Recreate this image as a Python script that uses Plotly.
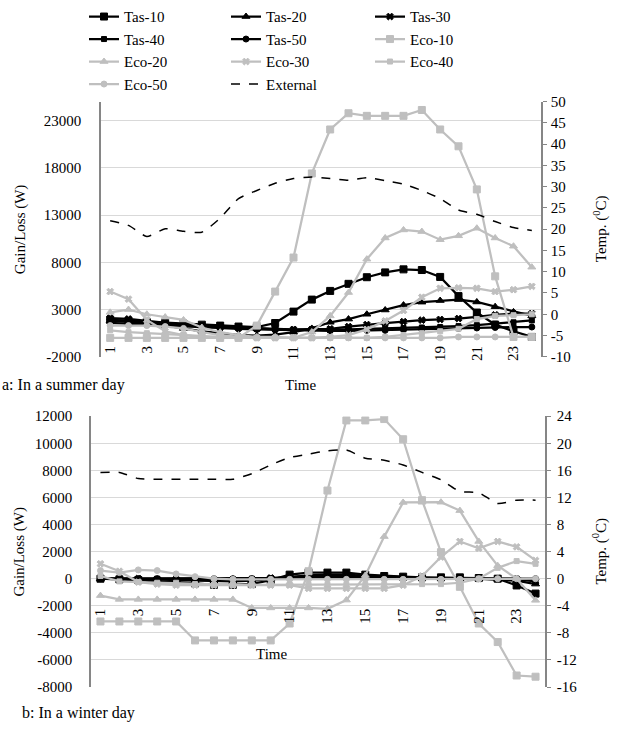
import plotly.graph_objects as go

hours = list(range(1, 25))
x_tick_vals = list(range(1, 25, 2))
series_names = ["Tas-10", "Tas-20", "Tas-30", "Tas-40", "Tas-50",
                "Eco-10", "Eco-20", "Eco-30", "Eco-40", "Eco-50"]

# axis tick values
top_left_ticks = [-2000, 3000, 8000, 13000, 18000, 23000]
top_right_ticks = [-10, -5, 0, 5, 10, 15, 20, 25, 30, 35, 40, 45, 50]
bot_left_ticks = [-8000, -6000, -4000, -2000, 0, 2000, 4000, 6000, 8000, 10000, 12000]
bot_right_ticks = [-16, -12, -8, -4, 0, 4, 8, 12, 16, 20, 24]

# ---- Summer day (W) ----
summer_tas10 = [1900, 1800, 1700, 1600, 1500, 1400, 1300, 1200, 1130, 1575, 2780, 4050,
                4970, 5720, 6420, 6930, 7250, 7180, 6450, 4420, 2680, 1400, 700, 100]
summer_tas20 = [1800, 1700, 1500, 1300, 1000, 700, 500, 300, 250, 350, 600, 1000,
                1650, 1990, 2500, 2950, 3470, 3780, 3950, 4050, 3800, 3300, 2750, 2330]
summer_tas30 = [2100, 2000, 1800, 1600, 1400, 1300, 1200, 1100, 1000, 950, 900, 900,
                960, 1200, 1410, 1570, 1720, 1880, 1950, 2050, 2230, 2440, 2570, 2570]
summer_tas40 = [1900, 1800, 1650, 1500, 1350, 1250, 1150, 1050, 950, 900, 850, 850,
                850, 900, 950, 1000, 1050, 1100, 1150, 1250, 1350, 1500, 1650, 1850]
summer_tas50 = [1600, 1500, 1400, 1300, 1200, 1100, 1000, 950, 900, 850, 800, 750,
                750, 750, 800, 800, 850, 900, 950, 1000, 1050, 1100, 1150, 1150]
summer_eco10 = [0, 0, 0, 0, 0, 0, 0, 0, 1300, 4900, 8500, 17400,
                22050, 23770, 23490, 23490, 23490, 24110, 22050, 20270, 15710, 6510, 100, 100]
summer_eco20 = [2700, 3000, 2500, 2200, 1900, 1100, 600, 300, 100, 100, 0, 620,
                2330, 4800, 8330, 10570, 11420, 11250, 10390, 10800, 11600, 10570, 9700, 7480]
summer_eco30 = [4900, 4100, 1900, 700, 300, 100, 0, 0, 0, 0, 0, 0,
                100, 300, 900, 1800, 2900, 4300, 5250, 5300, 5250, 4900, 5100, 5450]
summer_eco40 = [800, 600, 500, 400, 300, 200, 100, 0, 0, 0, 0, 0,
                0, 0, 0, 100, 300, 500, 700, 960, 1990, 2330, 2400, 2500]
summer_eco50 = [1300, 1300, 1300, 1200, 1000, 600, 300, 100, 0, 0, 0, 0,
                0, 0, 0, 0, 0, 0, 0, 100, 100, 100, 100, 100]
summer_external = [22.0, 20.9, 18.3, 20.1, 19.5, 19.3, 22.6, 27.2, 29.1, 30.8, 31.9, 32.3,
                   31.9, 31.5, 32.1, 31.4, 30.6, 29.1, 27.2, 24.5, 23.5, 21.8, 20.4, 19.7]

# ---- Winter day (W) ----
winter_tas10 = [0, -50, -100, -150, -250, -350, -450, -450, -400, -100, 300, 450,
                450, 450, 300, 200, 150, 100, 100, 100, 50, 0, -500, -1100]
winter_tas20 = [0, 0, -50, -50, -100, -150, -200, -200, -150, 0, 150, 250,
                300, 300, 200, 150, 100, 50, 50, 0, 0, -50, -150, -400]
winter_tas30 = [0, 0, 0, -50, -50, -100, -100, -100, -50, 50, 150, 200,
                200, 200, 150, 100, 50, 50, 0, 0, 0, 0, -50, -200]
winter_tas40 = [0, 0, 0, 0, 0, 0, -50, -50, 0, 50, 100, 150,
                150, 150, 100, 50, 50, 0, 0, 0, 0, 0, 0, -100]
winter_tas50 = [0, 0, 0, 0, 0, 0, 0, 0, 0, 0, 50, 100,
                100, 100, 50, 50, 0, 0, 0, 0, 0, 0, 0, 0]
winter_eco10 = [-3160, -3160, -3160, -3160, -3160, -4560, -4560, -4560, -4560, -4560, -3310, 550,
                6510, 11690, 11690, 11790, 10300, 5800, 1960, -600, -3310, -4680, -7150, -7240]
winter_eco20 = [-1250, -1530, -1530, -1530, -1530, -1530, -1530, -1530, -2160, -2160, -2160, -2160,
                -2230, -1580, 240, 3110, 5630, 5650, 5650, 5030, 2750, 960, 0, -1600]
winter_eco30 = [1100, 550, -250, -400, -480, -480, -480, -480, -480, -480, -480, -720,
                -720, -720, -720, -720, -480, 200, 1600, 2750, 2250, 2750, 2350, 1350]
winter_eco40 = [200, -200, -250, -300, -300, -400, -450, -450, -450, -450, -450, -450,
                -450, -450, -450, -450, -400, -400, -400, -300, 0, 800, 1300, 1100]
winter_eco50 = [600, 450, 650, 600, 350, 150, 0, -50, -50, -50, -50, -50,
                -50, -50, -50, -50, -50, -50, -50, -50, 0, 0, 0, 0]
winter_external = [15.7, 15.7, 14.8, 14.7, 14.7, 14.7, 14.7, 14.7, 15.5, 16.8, 17.9, 18.4,
                   18.9, 19.0, 17.8, 17.5, 16.8, 15.7, 14.6, 12.9, 12.7, 11.1, 11.6, 11.6]

summer_sets = [summer_tas10, summer_tas20, summer_tas30, summer_tas40, summer_tas50,
               summer_eco10, summer_eco20, summer_eco30, summer_eco40, summer_eco50]
winter_sets = [winter_tas10, winter_tas20, winter_tas30, winter_tas40, winter_tas50,
               winter_eco10, winter_eco20, winter_eco30, winter_eco40, winter_eco50]

BLACK = "#000000"
GRAY = "#bfbfbf"
AXIS = "#868686"
GRID = "#d9d9d9"
FONT = "Liberation Serif"

symbols = ["square", "triangle-up", "x", "square", "circle"]
sizes = [7, 7, 6, 5, 6]
legend_ids = ["legend", "legend2", "legend3"]  # three legend columns

fig = go.Figure()

# plot geometry (paper fractions)
W, H = 618, 733
top_dom_x = [101 / W, 541 / W]
top_dom_y = [(H - 355) / H, (H - 93) / H]
bot_dom_x = [91 / W, 545 / W]
bot_dom_y = [(H - 694) / H, (H - 416) / H]
top_range = [-2000, 25000]
bot_range = [-8000, 12000]


def frac(v, rng, dom):
    return dom[0] + (v - rng[0]) / (rng[1] - rng[0]) * (dom[1] - dom[0])


def lbl(vals):
    return [str(v) for v in vals]


for panel, sets, ext, xa, ya, ya2 in [
    ("s", summer_sets, summer_external, "x", "y", "y2"),
    ("w", winter_sets, winter_external, "x2", "y3", "y4"),
]:
    for i, (name, vals) in enumerate(zip(series_names, sets)):
        color = BLACK if i < 5 else GRAY
        k = i % 5
        fig.add_trace(go.Scatter(
            x=hours, y=vals, name=name, mode="lines+markers",
            line=dict(color=color, width=2.25),
            marker=dict(symbol=symbols[k], size=sizes[k], color=color,
                        line=dict(color=color, width=1)),
            xaxis=xa, yaxis=ya, legendgroup=name,
            legend=legend_ids[i % 3],
            showlegend=(panel == "s"),
        ))
    fig.add_trace(go.Scatter(
        x=hours, y=ext, name="External", mode="lines",
        line=dict(color=BLACK, width=1.5, dash="dash", shape="spline", smoothing=0.6),
        xaxis=xa, yaxis=ya2, legendgroup="External",
        legend=legend_ids[len(series_names) % 3],
        showlegend=(panel == "s"),
    ))

tickfont = dict(family=FONT, size=15, color="#000000")

common_x = dict(range=[0.5, 24.5], tickmode="array", tickvals=x_tick_vals,
                ticktext=lbl(x_tick_vals), tickangle=-90,
                showgrid=False, zeroline=False, showline=False, ticks="",
                tickfont=tickfont, anchor="free")

legend_common = dict(orientation="v", y=(H + 11) / H, xanchor="left", yanchor="top",
                     traceorder="normal", font=dict(family=FONT, size=15, color="#000000"),
                     bgcolor="rgba(0,0,0,0)", tracegroupgap=0, itemwidth=30)

fig.update_layout(
    width=W, height=H,
    margin=dict(l=0, r=0, t=0, b=0),
    paper_bgcolor="white", plot_bgcolor="white",
    font=dict(family=FONT, size=15, color="#000000"),
    xaxis=dict(domain=top_dom_x, position=frac(0, top_range, top_dom_y),
               ticklabelstandoff=4, **common_x),
    xaxis2=dict(domain=bot_dom_x, position=frac(0, bot_range, bot_dom_y),
                ticklabelstandoff=26, **common_x),
    yaxis=dict(domain=top_dom_y, range=top_range, tickmode="array",
               tickvals=top_left_ticks, ticktext=lbl(top_left_ticks),
               anchor="x", showgrid=True, gridcolor=GRID, gridwidth=1,
               zeroline=False, showline=True, linecolor=AXIS, linewidth=1.5,
               ticks="", ticklabelstandoff=15, tickfont=tickfont),
    yaxis2=dict(range=[-10, 50], tickmode="array", tickvals=top_right_ticks,
                ticktext=lbl(top_right_ticks), overlaying="y", side="right",
                anchor="x", showgrid=False, zeroline=False, showline=True,
                linecolor=AXIS, linewidth=1.5, ticks="outside", ticklen=4,
                tickcolor=AXIS, ticklabelstandoff=1, tickfont=tickfont),
    yaxis3=dict(domain=bot_dom_y, range=bot_range, tickmode="array",
                tickvals=bot_left_ticks, ticktext=lbl(bot_left_ticks),
                anchor="x2", showgrid=True, gridcolor=GRID, gridwidth=1,
                zeroline=False, showline=True, linecolor=AXIS, linewidth=1.5,
                ticks="", ticklabelstandoff=14, tickfont=tickfont),
    yaxis4=dict(range=[-16, 24], tickmode="array", tickvals=bot_right_ticks,
                ticktext=lbl(bot_right_ticks), overlaying="y3", side="right",
                anchor="x2", showgrid=False, zeroline=False, showline=True,
                linecolor=AXIS, linewidth=1.5, ticks="outside", ticklen=4,
                tickcolor=AXIS, ticklabelstandoff=3, tickfont=tickfont),
    legend=dict(x=84 / W, **legend_common),
    legend2=dict(x=226 / W, **legend_common),
    legend3=dict(x=370 / W, **legend_common),
    showlegend=True,
)

ann_font = dict(family=FONT, size=15, color="#000000")
annotations = [
    dict(text="Gain/Loss (W)", x=20 / W, y=(top_dom_y[0] + top_dom_y[1]) / 2, textangle=-90),
    dict(text="Temp. (<sup>0</sup>C)", x=600 / W, y=(top_dom_y[0] + top_dom_y[1]) / 2, textangle=-90),
    dict(text="Gain/Loss (W)", x=20 / W, y=(bot_dom_y[0] + bot_dom_y[1]) / 2, textangle=-90),
    dict(text="Temp. (<sup>0</sup>C)", x=600 / W, y=(bot_dom_y[0] + bot_dom_y[1]) / 2, textangle=-90),
    dict(text="Time", x=300 / W, y=(H - 384) / H),
    dict(text="Time", x=271 / W, y=(H - 660) / H),
]
for a in annotations:
    fig.add_annotation(xref="paper", yref="paper", showarrow=False,
                       xanchor="center", yanchor="middle", font=ann_font, **a)
fig.add_annotation(text="a: In a summer day", xref="paper", yref="paper",
                   x=0, y=(H - 384) / H, xanchor="left", yanchor="middle",
                   showarrow=False, font=dict(family=FONT, size=16, color="#000000"))
fig.add_annotation(text="b: In a winter day", xref="paper", yref="paper",
                   x=20 / W, y=(H - 721) / H, xanchor="left", yanchor="middle",
                   showarrow=False, font=dict(family=FONT, size=16, color="#000000"))

fig.write_html("out.html")
